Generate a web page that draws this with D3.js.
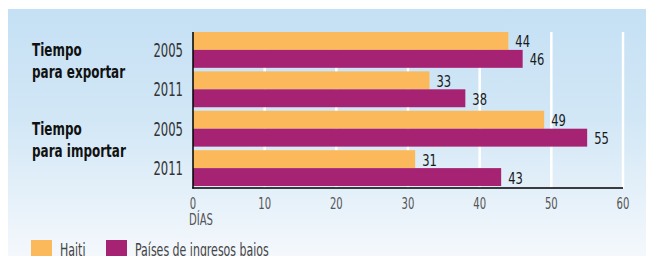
<!DOCTYPE html>
<html>
<head>
<meta charset="utf-8">
<script src="https://cdn.jsdelivr.net/npm/d3@7"></script>
<style>
  body { margin: 0; background: #fff; }
  svg { display: block; }
  text { font-family: "DejaVu Sans Condensed", "DejaVu Sans", sans-serif; font-stretch: condensed; }
</style>
</head>
<body>
<svg id="chart"></svg>
<script>
// data
const groupLines = [["Tiempo", "para exportar"], ["Tiempo", "para importar"]];
const years = ["2005", "2011"];
const haiti = [44, 33, 49, 31];
const lowIncome = [46, 38, 55, 43];
const xTicks = [0, 10, 20, 30, 40, 50, 60];
const seriesNames = ["Haiti", "Países de ingresos bajos"];
const seriesColors = ["#fbb95b", "#a62373"];

const width = 646, height = 256;
const svg = d3.select("#chart").attr("width", width).attr("height", height);

// horizontally squeezed text (reference uses a very condensed face)
function label(parent, px, py, sx) {
  return parent.append("text").attr("transform", `translate(${px},${py}) scale(${sx},1)`);
}

// background gradient
const defs = svg.append("defs");
const grad = defs.append("linearGradient").attr("id", "bg").attr("x1", 0).attr("y1", 0).attr("x2", 0).attr("y2", 1);
grad.append("stop").attr("offset", "0%").attr("stop-color", "#c5e0f4");
grad.append("stop").attr("offset", "45%").attr("stop-color", "#d2e7f6");
grad.append("stop").attr("offset", "100%").attr("stop-color", "#f4f8fc");
svg.append("rect").attr("x", 8).attr("y", 9).attr("width", width - 8).attr("height", height - 9).attr("fill", "url(#bg)");

// rows: one band per (group, year)
const rows = [];
groupLines.forEach((g, gi) => years.forEach((yr, yi) => rows.push({ g: gi, year: yr, i: gi * 2 + yi })));

const x = d3.scaleLinear().domain([0, 60]).range([193, 623]);
const y = d3.scaleBand().domain(rows.map(d => d.i)).range([30, 188]).paddingInner(0.09).paddingOuter(0.05);
const sub = d3.scaleBand().domain([0, 1]).range([0, y.bandwidth()]);

// gridlines
svg.append("g").selectAll("line")
  .data(xTicks.filter(d => d > 0))
  .join("line")
    .attr("x1", d => x(d)).attr("x2", d => x(d))
    .attr("y1", 32).attr("y2", 188)
    .attr("stroke", "#fff").attr("stroke-width", 2.5);

// bars + value labels
const series = [haiti, lowIncome];
const barG = svg.append("g");
series.forEach((vals, si) => {
  barG.selectAll(".s" + si)
    .data(rows)
    .join("rect")
      .attr("class", "s" + si)
      .attr("x", x(0))
      .attr("y", d => y(d.i) + sub(si))
      .attr("width", d => x(vals[d.i]) - x(0))
      .attr("height", sub.bandwidth())
      .attr("fill", seriesColors[si]);
  rows.forEach(d => {
    label(barG, x(vals[d.i]) + 7, y(d.i) + sub(si) + sub.bandwidth() / 2 + 6.5, 0.8)
      .attr("font-size", 16)
      .attr("fill", "#1a1a1a")
      .text(vals[d.i]);
  });
});

// axes lines
svg.append("line").attr("x1", x(0)).attr("x2", x(0)).attr("y1", 32).attr("y2", 188.5)
  .attr("stroke", "#000").attr("stroke-width", 1.5);
svg.append("line").attr("x1", x(0) - 0.75).attr("x2", x(60)).attr("y1", 188).attr("y2", 188)
  .attr("stroke", "#000").attr("stroke-width", 1.5);

// x tick labels
const tickG = svg.append("g");
xTicks.forEach(t => {
  label(tickG, x(t), 209, 0.7)
    .attr("text-anchor", "middle")
    .attr("font-size", 16)
    .attr("fill", "#555")
    .text(t);
});
label(svg, x(0) - 4, 225, 0.7).attr("font-size", 16).attr("fill", "#555").text("DÍAS");

// year labels
const yearG = svg.append("g");
rows.forEach(d => {
  label(yearG, 183, y(d.i) + y.bandwidth() / 2 + 7, 0.68)
    .attr("text-anchor", "end")
    .attr("font-size", 19)
    .attr("fill", "#333")
    .text(d.year);
});

// group labels
groupLines.forEach((lines, gi) => {
  lines.forEach((ln, li) => {
    label(svg, 32, y(gi * 2) + 24 + li * 22, 0.74)
      .attr("font-size", 18)
      .attr("font-weight", "bold")
      .attr("fill", "#111")
      .text(ln);
  });
});

// legend
const legX = [31, 106];
seriesNames.forEach((n, i) => {
  svg.append("rect").attr("x", legX[i]).attr("y", 240).attr("width", 21).attr("height", 16).attr("fill", seriesColors[i]);
  label(svg, legX[i] + 29, 256, 0.72).attr("font-size", 17).attr("fill", "#444").text(n);
});
</script>
</body>
</html>
